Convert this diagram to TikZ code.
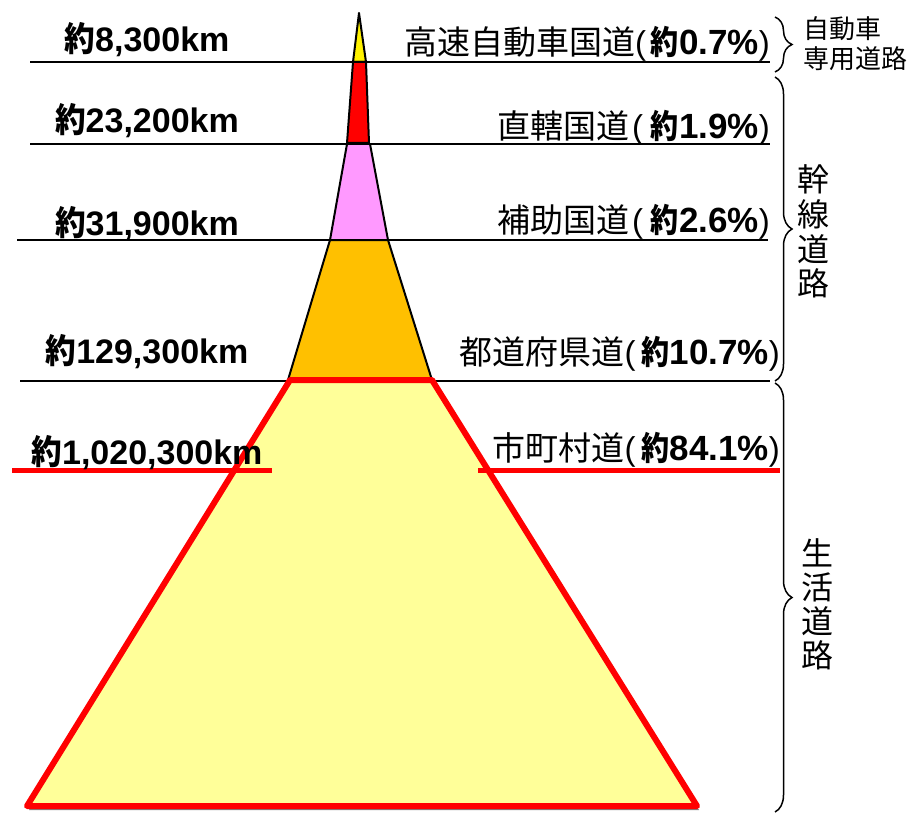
\documentclass[tikz,border=0pt]{standalone}
\usepackage{fontspec}
\setmainfont{Liberation Sans}
\newfontfamily\jp{Noto Sans CJK JP}
\usetikzlibrary{decorations.pathreplacing}
\newcommand\yk{\scalebox{0.9}[1]{\jp\bfseries 約}}
\newcommand\ykr{\scalebox{0.85}[1]{\jp\bfseries 約}}
\newcommand\pct[1]{\textbf{\fontsize{35}{40}\selectfont #1}}
\begin{document}
\begin{tikzpicture}[x=1pt,y=-1pt,
  hline/.style={line width=1.5pt},
  redline/.style={line width=5pt, draw=red},
  piece/.style={draw=black, line width=2pt, line join=round},
  leftlab/.style={anchor=base, font=\fontsize{34}{40}\selectfont\bfseries, inner sep=0pt},
  rightlab/.style={anchor=base east, font=\fontsize{33}{40}\selectfont, inner sep=0pt},
  sidelab/.style={anchor=base west, font=\fontsize{26}{30}\selectfont\jp, inner sep=0pt},
  vertlab/.style={anchor=base, font=\fontsize{32}{36}\selectfont\jp, inner sep=0pt},
  bracestyle/.style={decorate, decoration={brace, amplitude=17pt}, line width=1.5pt},
]
\useasboundingbox (0,0) rectangle (918,813);
\fill[white] (0,0) rectangle (918,813);

% horizontal lines
\draw[hline] (30,62) -- (770,62);
\draw[hline] (30,144) -- (770,144);
\draw[hline] (17,240) -- (768,240);
\draw[hline] (20,381) -- (770,381);

% pyramid pieces
\filldraw[piece, fill=yellow] (359,13) -- (366,62) -- (353,62) -- cycle;
\filldraw[piece, fill=red] (353,62) -- (366,62) -- (369,143) -- (347,143) -- cycle;
\filldraw[piece, fill={rgb,255:red,255;green,153;blue,255}] (347,144) -- (370,144) -- (388,240) -- (330,240) -- cycle;
\filldraw[piece, fill={rgb,255:red,255;green,192;blue,0}] (330,240) -- (388,240) -- (432,380) -- (288,380) -- cycle;
\fill[gray] (292,384) -- (434,384) -- (699,810) -- (29,810) -- cycle;
\filldraw[line width=6pt, draw=red, line join=round, fill={rgb,255:red,255;green,255;blue,153}] (290,380) -- (432,380) -- (697,806) -- (27,806) -- cycle;

% red underlines
\draw[redline] (12,470) -- (272,470);
\draw[redline] (478,470) -- (780,470);

% left labels
\node[leftlab] (l1) at (147,52) {\yk 8,300km};
\node[leftlab] (l2) at (147,133) {\yk 23,200km};
\node[leftlab] (l3) at (147,236) {\yk 31,900km};
\node[leftlab] (l4) at (147,363) {\yk 129,300km};
\node[leftlab] (l5) at (147,464) {\yk 1,020,300km};

% right labels
\node[rightlab] (r1) at (770,55) {{\jp 高速自動車国道}(\hspace{5pt}\ykr\pct{0.7\%})};
\node[rightlab] (r2) at (770,139) {{\jp 直轄国道}\hspace{3pt}(\hspace{8pt}\ykr\pct{1.9\%})};
\node[rightlab] (r3) at (770,233) {{\jp 補助国道}\hspace{3pt}(\hspace{8pt}\ykr\pct{2.6\%})};
\node[rightlab] (r4) at (780,364) {{\jp 都道府県道}(\hspace{6pt}\ykr\pct{10.7\%})};
\node[rightlab] (r5) at (780,460) {{\jp 市町村道}(\hspace{6pt}\ykr\pct{84.1\%})};

% braces
\draw[bracestyle] (775,17) -- (775,72);
\draw[bracestyle] (775,77) -- (775,381);
\draw[bracestyle] (775,383) -- (775,812);

% side labels
\node[sidelab] (s1) at (803,39) {自動車};
\node[sidelab] (s2) at (803,69) {専用道路};
\node[vertlab] (k1) at (813,192) {幹};
\node[vertlab] (k2) at (813,226) {線};
\node[vertlab] (k3) at (813,261) {道};
\node[vertlab] (k4) at (813,295) {路};
\node[vertlab] (g1) at (817,565) {生};
\node[vertlab] (g2) at (817,599) {活};
\node[vertlab] (g3) at (817,633) {道};
\node[vertlab] (g4) at (817,667) {路};
\end{tikzpicture}
\end{document}
